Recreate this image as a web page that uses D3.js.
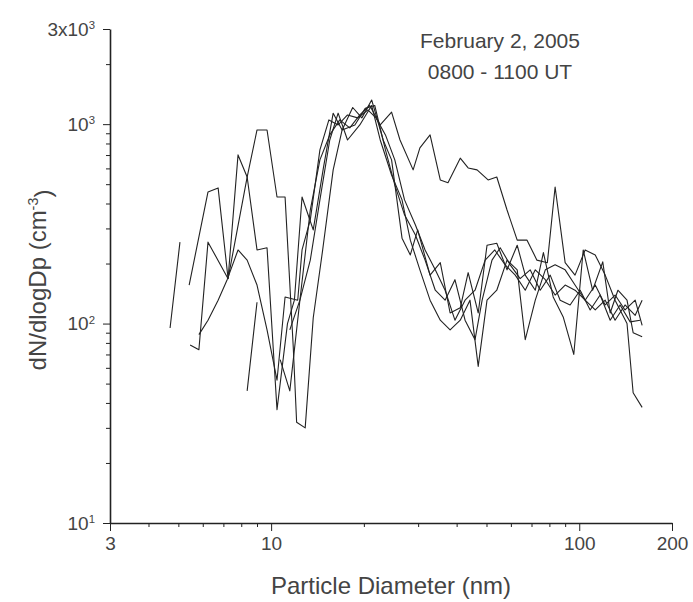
<!DOCTYPE html>
<html>
<head>
<meta charset="utf-8">
<script src="https://cdnjs.cloudflare.com/ajax/libs/d3/7.8.5/d3.min.js"></script>
<style>
body { margin: 0; background: #fff; }
text { font-family: "Liberation Sans", Arial, sans-serif; fill: #444; }
.axis path, .axis line { stroke: #222; }
</style>
</head>
<body>
<script>
// scans, [diameter (nm), dN/dlogDp (cm-3)], null = gap in the scan
var scan1 = [[5.42,156],[6.24,457],[6.73,479],[7.25,168],[8.36,543],[9.0,935],[9.7,935],[10.45,431],[11.1,431],[11.8,76],[12.1,32],[12.9,30],[13.7,107],[14.7,234],[15.9,590],[17.0,935],[18.4,1212],[19.7,1075],[21.2,1322],[23.1,833],[24.6,662],[26.6,268],[28.3,221],[29.9,295],[32.8,175],[35.4,202],[38.1,113],[41.1,120],[43.6,180],[47.0,113],[50.2,247],[54.0,253],[58.3,186],[62.9,247],[66.8,175],[72.0,147],[76.5,227],[82.3,136],[88.7,108],[96.0,70],[103,234],[110.5,147],[119.2,204],[126,113],[133.5,147],[142.9,131],[149.6,90],[160,86]];
var scan2 = [[5.46,78],[5.83,74],[6.24,256],[7.25,168],[7.81,701],[8.36,543],[9.0,234],[9.7,240],[10.45,37],[11.3,100],[11.9,131],[12.6,431],[13.7,295],[14.8,610],[15.9,1135],[17.0,935],[18.7,991],[20.2,1200],[21.7,1240],[23.5,743],[25.2,496],[27.1,351],[29.4,278],[31.6,208],[34.1,147],[36.7,131],[39.5,166],[42.6,104],[45.9,83],[48.4,131],[52.1,208],[55.4,240],[59.7,197],[64.3,168],[69.3,186],[74.7,147],[80.5,175],[86.7,131],[93.4,124],[100.7,147],[108.5,117],[116.9,139],[126,104],[135.7,124],[146.3,102],[157.6,104]];
var scan3 = [[10.7,66],[11.5,46],[12.4,131],[13.4,371],[14.4,662],[15.5,883],[16.7,1050],[18.0,958],[19.4,1112],[20.9,1240],[22.6,991],[24.6,1150],[26.2,833],[28.9,590],[30.4,760],[32.8,883],[35.4,525],[37.5,508],[41.1,675],[43.6,603],[46.6,590],[50.6,525],[54.0,543],[58.3,371],[62.9,262],[67.7,262],[72.9,208],[78.8,202],[83.5,484],[90.0,202],[96.9,175],[104.5,234],[112.7,221],[121.4,175],[130.7,131],[142.9,100],[149.6,45],[160,38]];
var scan4 = [[4.7,95],[5.06,256],null,[8.36,46],[9.0,128],null,[11.5,93],[12.4,131],[13.4,208],[14.4,417],[15.5,833],[16.5,1135],[17.7,833],[19.4,991],[21.2,1240],[22.6,833],[24.6,556],[26.6,417],[28.3,262],[30.4,186],[32.8,131],[35.4,104],[38.1,93],[41.1,104],[44.2,131],[47.0,61],[50.2,131],[54.0,147],[58.3,208],[62.9,186],[66.8,83],[72.0,131],[77.6,186],[83.5,197],[90.0,186],[96.9,156],[104.5,131],[112.7,117],[121.4,131],[130.7,104],[140.8,124],[151.9,110],[160,131]];
var scan5 = [[5.83,88],[6.24,104],[6.73,131],[7.2,166],[7.81,234],[8.36,208],[9.0,156],[9.7,93],[10.45,52],[11.1,136],[12.2,131],[12.6,234],[13.4,331],[14.4,743],[15.4,1050],[16.5,991],[17.7,1112],[19.1,1075],[20.6,1178],[21.9,1075],[23.5,883],[25.2,662],[27.1,417],[29.4,312],[31.6,234],[34.1,186],[36.7,147],[39.5,104],[42.6,131],[45.9,147],[49.5,208],[53.2,234],[57.5,197],[62.0,175],[66.8,147],[72.0,186],[77.6,166],[83.5,139],[90.0,156],[96.9,147],[104.5,131],[112.7,156],[121.4,124],[130.7,139],[140.8,117],[151.9,131],[160,98]];

var xMajor = [3, 10, 100, 200];
var xMinor = [4, 5, 6, 7, 8, 9, 20, 30, 40, 50, 60, 70, 80, 90];
var yMajor = [10, 100, 1000, 3000];
var yMinor = [20, 30, 40, 50, 60, 70, 80, 90, 200, 300, 400, 500, 600, 700, 800, 900, 2000];
var yTickLabels = [["10", "1"], ["10", "2"], ["10", "3"], ["3x10", "3"]];
var noteLines = ["February 2, 2005", "0800 - 1100 UT"];

var width = 693, height = 602;
var margin = {top: 29, right: 21, bottom: 79, left: 110};

var svg = d3.select("body").append("svg")
    .attr("width", width).attr("height", height);

var x = d3.scaleLog().domain([3, 200]).range([margin.left, width - margin.right]);
var y = d3.scaleLog().domain([10, 3000]).range([height - margin.bottom, margin.top]);

//Scans
var line = d3.line()
    .defined(function(d) { return d != null; })
    .x(function(d) { return x(d[0]); })
    .y(function(d) { return y(d[1]); });

svg.selectAll(".scan").data([scan1, scan2, scan3, scan4, scan5]).enter()
    .append("path").attr("class", "scan")
    .attr("d", line)
    .attr("fill", "none")
    .attr("stroke", "#222")
    .attr("stroke-width", 1.1)
    .attr("stroke-linejoin", "round");

//X axis
svg.append("g").attr("class", "axis")
    .attr("transform", "translate(0," + y(10) + ")")
    .call(d3.axisBottom(x).tickValues(xMajor).tickSize(8).tickSizeOuter(0).tickPadding(6).tickFormat(d3.format("d")));
svg.append("g").attr("class", "axis")
    .attr("transform", "translate(0," + y(10) + ")")
    .call(d3.axisBottom(x).tickValues(xMinor).tickSize(4).tickFormat(""))
    .select(".domain").remove();

//Y axis
var yAxis = svg.append("g").attr("class", "axis")
    .attr("transform", "translate(" + x(3) + ",0)")
    .call(d3.axisLeft(y).tickValues(yMajor).tickSize(7).tickSizeOuter(0).tickPadding(8));
svg.append("g").attr("class", "axis")
    .attr("transform", "translate(" + x(3) + ",0)")
    .call(d3.axisLeft(y).tickValues(yMinor).tickSize(4).tickFormat(""))
    .select(".domain").remove();

yAxis.selectAll(".tick text").each(function(d, i) {
    var t = d3.select(this).text(null);
    t.append("tspan").text(yTickLabels[i][0]);
    t.append("tspan").attr("dy", "-0.55em").attr("font-size", "0.6em").text(yTickLabels[i][1]);
});

svg.selectAll(".axis path.domain").attr("stroke-width", 1.6);
svg.selectAll(".axis text").attr("font-size", 19).attr("fill", "#555");

//Axis labels
svg.append("text")
    .attr("x", (x(3) + x(200)) / 2)
    .attr("y", 594)
    .attr("text-anchor", "middle")
    .attr("font-size", 24)
    .text("Particle Diameter (nm)");

var yLabel = svg.append("text")
    .attr("transform", "translate(46," + ((y(10) + y(3000)) / 2 + 4) + ")rotate(-90)")
    .attr("text-anchor", "middle")
    .attr("font-size", 24);
yLabel.append("tspan").text("dN/dlogDp (cm");
yLabel.append("tspan").attr("dy", "-0.55em").attr("font-size", "0.6em").text("-3");
yLabel.append("tspan").attr("dy", "0.55em").text(")");

//Date annotation
svg.selectAll(".note").data(noteLines).enter()
    .append("text").attr("class", "note")
    .attr("x", 500)
    .attr("y", function(d, i) { return 48 + i * 31; })
    .attr("text-anchor", "middle")
    .attr("font-size", 21)
    .text(function(d) { return d; });
</script>
</body>
</html>
